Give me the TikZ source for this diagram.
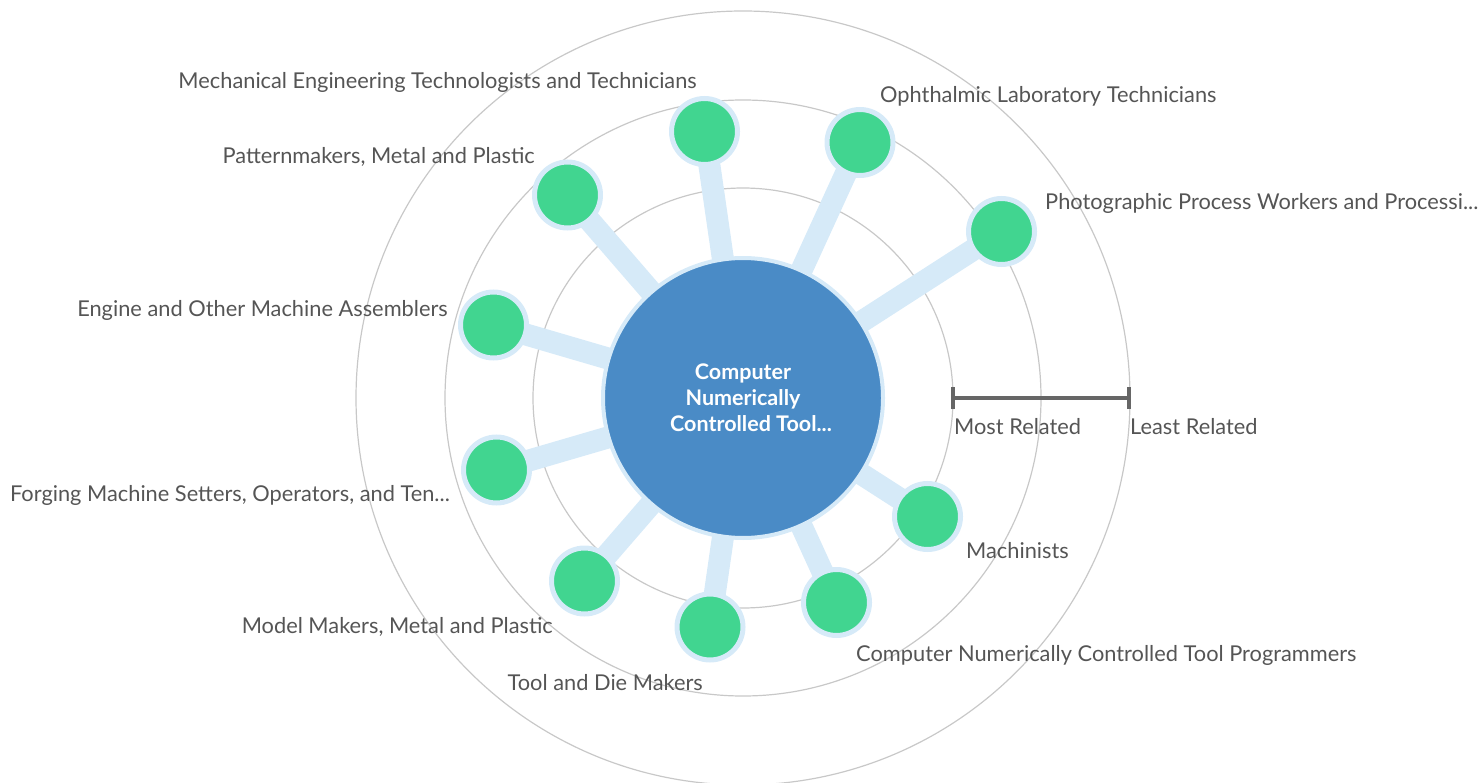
\documentclass[tikz,border=0pt]{standalone}
\usepackage{fontspec}
\setmainfont{Lato}
\definecolor{ringgray}{HTML}{C8C8C8}
\definecolor{halo}{HTML}{D6EAF8}
\definecolor{hubblue}{HTML}{4A8BC6}
\definecolor{leafgreen}{HTML}{41D590}
\definecolor{labgray}{HTML}{555555}
\definecolor{bargray}{HTML}{666666}

\tikzset{
  hub/.style={circle, fill=hubblue, draw=halo, line width=4pt, minimum size=280pt, inner sep=0pt,
    text=white, align=center, font=\bfseries\fontsize{21.5}{26}\selectfont},
  leaf/.style={circle, fill=leafgreen, draw=halo, line width=5pt, minimum size=66pt, inner sep=0pt},
  spoke/.style={halo, line width=22pt},
  lab/.style={text=labgray, inner sep=0pt, font=\fontsize{21.8}{26}\selectfont},
}

\begin{document}
\begin{tikzpicture}[x=1pt, y=-1pt]
    \useasboundingbox (0,0) rectangle (1482,783);

    % rings
    \draw[ringgray, line width=1.2pt] (743,398) circle (210);
    \draw[ringgray, line width=1.2pt] (743,398) circle (298);
    \draw[ringgray, line width=1.2pt] (743,398) circle (387);

    % positions
    \coordinate (c) at (743,398);
    \coordinate (p1) at (704.5,131.5);
    \coordinate (p2) at (860,142.5);
    \coordinate (p3) at (1001.5,231.5);
    \coordinate (p4) at (567.5,195);
    \coordinate (p5) at (493.5,325);
    \coordinate (p6) at (496.5,470);
    \coordinate (p7) at (584.5,581);
    \coordinate (p8) at (710,627);
    \coordinate (p9) at (836.5,602.5);
    \coordinate (p10) at (927.5,516.5);

    % spokes
    \foreach \i in {1,...,10}
        \draw[spoke] (c) -- (p\i);

    \node[hub] (cnc) at (c) {Computer\\Numerically\\\hspace*{16pt}Controlled Tool...};

    \node[leaf] (mech) at (p1) {};
    \node[leaf] (ophth) at (p2) {};
    \node[leaf] (photo) at (p3) {};
    \node[leaf] (pattern) at (p4) {};
    \node[leaf] (engine) at (p5) {};
    \node[leaf] (forging) at (p6) {};
    \node[leaf] (model) at (p7) {};
    \node[leaf] (tooldie) at (p8) {};
    \node[leaf] (prog) at (p9) {};
    \node[leaf] (machin) at (p10) {};

    % labels
    \node[lab, anchor=mid east] (mechlab) at (697,85.5) {Mechanical Engineering Technologists and Technicians};
    \node[lab, anchor=mid west] (ophthlab) at (880,99.5) {Ophthalmic Laboratory Technicians};
    \node[lab, anchor=mid west] (photolab) at (1045,206.5) {Photographic Process Workers and Processi...};
    \node[lab, anchor=mid east] (patternlab) at (535,160.5) {Patternmakers, Metal and Plastic};
    \node[lab, anchor=mid east] (enginelab) at (448,313.5) {Engine and Other Machine Assemblers};
    \node[lab, anchor=mid east] (forginglab) at (450,498.5) {Forging Machine Setters, Operators, and Ten...};
    \node[lab, anchor=mid east] (modellab) at (553,630.5) {Model Makers, Metal and Plastic};
    \node[lab, anchor=mid east] (tooldielab) at (703,687.5) {Tool and Die Makers};
    \node[lab, anchor=mid west] (proglab) at (856,658.5) {Computer Numerically Controlled Tool Programmers};
    \node[lab, anchor=mid west] (machinlab) at (966,555.5) {Machinists};

    % scale
    \coordinate (most) at (953,398);
    \coordinate (least) at (1129,398);
    \draw[bargray, line width=4pt] (most) -- (least);
    \draw[bargray, line width=4pt] ([yshift=-11pt]most) -- ([yshift=11pt]most);
    \draw[bargray, line width=4pt] ([yshift=-11pt]least) -- ([yshift=11pt]least);
    \node[lab, anchor=mid west] (mostlab) at (954,431.5) {Most Related};
    \node[lab, anchor=mid west] (leastlab) at (1130,431.5) {Least Related};
\end{tikzpicture}
\end{document}
